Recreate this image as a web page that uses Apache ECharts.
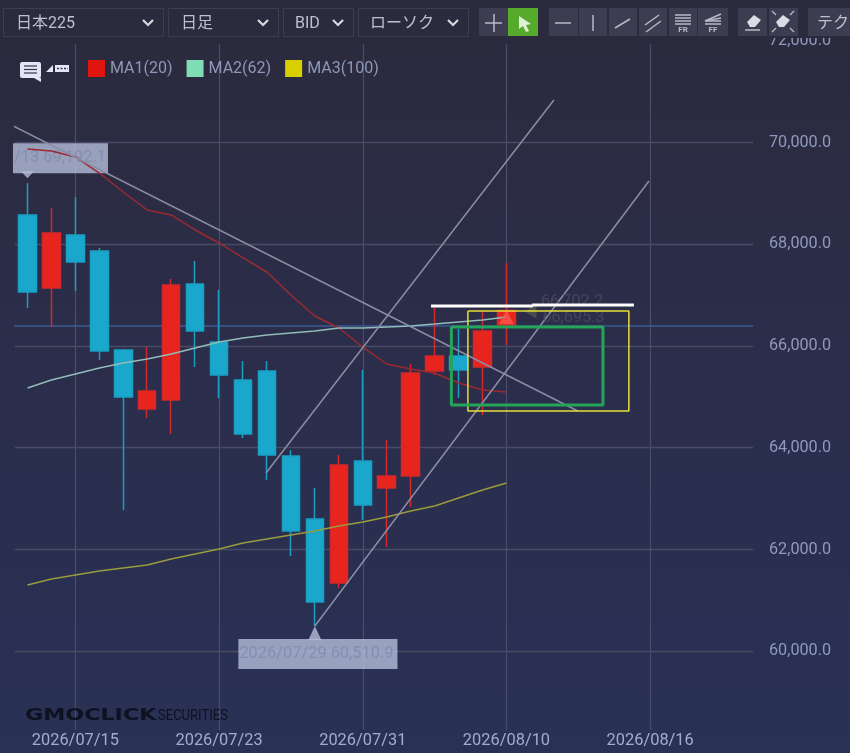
<!DOCTYPE html>
<html><head><meta charset="utf-8">
<style>html,body{margin:0;padding:0;background:#2b2b3d}#c{width:850px;height:753px}</style>
<script src="https://cdn.jsdelivr.net/npm/echarts@6/dist/echarts.min.js"></script>
</head><body><div id="c"></div>
<script>
const dates = ['2026/07/13','2026/07/14','2026/07/15','2026/07/16','2026/07/17','2026/07/20','2026/07/21','2026/07/22','2026/07/23','2026/07/24','2026/07/27','2026/07/28','2026/07/29','2026/07/30','2026/07/31','2026/08/03','2026/08/04','2026/08/05','2026/08/06','2026/08/07','2026/08/10','2026/08/11','2026/08/12','2026/08/13','2026/08/14','2026/08/15','2026/08/16','2026/08/17','2026/08/18','2026/08/19','2026/08/20'];
const labelledDates = ['2026/07/15','2026/07/23','2026/07/31','2026/08/10','2026/08/16'];
// open, close, low, high
const ohlc = [
 [68569,67059,66745,69192.1],[67137,68216,66373,68706],[68177,67647,67078,68922],[67863,65902,65725,67922],
 [65922,65000,62784,65940],[64765,65118,64588,65980],[64941,67196,64275,67314],[67216,66294,65588,67667],
 [66078,65431,64980,67098],[65333,64275,64196,65706],[65510,63863,63373,65706],[63843,62373,61882,63961],
 [62608,60980,60510.9,63216],[61353,63667,61255,63863],[63745,62882,62588,65529],[63216,63451,62059,64157],
 [63451,65471,62843,65647],[65510,65804,65431,66745],[65804,65529,64980,66333],[65588,66294,64647,66706],
 [66412,66695.3,66020,67628]
];
const ma1 = [69863,69824,69706,69392,69020,68667,68569,68275,68020,67726,67451,67000,66588,66353,65980,65647,65549,65471,65275,65137,65098];
const ma2 = [65176,65333,65451,65569,65667,65745,65843,65961,66078,66157,66216,66255,66294,66353,66353,66373,66392,66431,66471,66510,66569];
const ma3 = [61314,61431,61510,61588,61647,61706,61824,61922,62020,62137,62216,62294,62373,62471,62549,62647,62765,62863,63020,63176,63314];
const trendDown = [[-0.6,70314],[22.98,64725]];
const trendUpA = [[9.96,63510],[21.98,70824]];
const trendUpB = [[12,60510.9],[25.95,69235]];
const priceLine = [[-0.6,66392],[30.3,66392]];
const whiteA = [[16.85,66784],[21.1,66784]];
const whiteB = [[21.06,66804],[25.32,66804]];
const greenBox = [[17.7,66373],[24.03,66373],[24.03,64843],[17.7,64843],[17.7,66373]];
const yellowBox = [[18.39,66686],[25.11,66686],[25.11,64725],[18.39,64725],[18.39,66686]];
const highNote = {x:0, y:69192.1, text:'/13 69,192.1'};
const lowNote = {x:12, y:60510.9, text:'2026/07/29 60,510.9'};
const lastA = {x:20, y:66702.2, text:'66,702.2'};
const lastB = {x:21, y:66695.3, text:'66,695.3'};
const legendNames = ['MA1(20)','MA2(62)','MA3(100)'];
const selects = ['日本225','日足','BID','ローソク'];

const chart = echarts.init(document.getElementById('c'), null, {renderer:'canvas'});
const F = 'Roboto';
const JP = 'Roboto, "Noto Sans CJK JP"';
const lineS = (name,data,color,width,z,extra) => Object.assign({
  type:'line',name,data,xAxisIndex:1,yAxisIndex:0,showSymbol:false,symbol:'none',clip:false,silent:true,z,
  lineStyle:{color,width,cap:'butt'},animation:false},extra||{});
const noteLabel = (text,pos) => ({show:true,formatter:text,position:pos,align:'left',verticalAlign:'top',
  fontFamily:F,fontSize:16.4,color:'#7f89ae',backgroundColor:'#b5bedb',lineHeight:20});
const TC = '#bfc0cc', BD = '#3d3d50', BTN = '#3d3d52', IC = '#b9bac6';
const g = [];
g.push({type:'rect',shape:{x:0,y:0,width:850,height:38},style:{fill:'#2b2b3d'},z:100});
[[3,160],[168,110],[283,70],[358,110]].forEach(([x,w],i)=>{
  g.push({type:'rect',shape:{x:x+.5,y:8.5,width:w,height:28},style:{fill:'#2b2b3d',stroke:BD,lineWidth:1},z:101});
  g.push({type:'text',x:x+(i==0?13:i==1?13:12),y:24,style:{text:selects[i],fill:TC,font:'16px '+JP,verticalAlign:'middle'},z:102});
  const cx=x+w-15;
  g.push({type:'polyline',shape:{points:[[cx-5,20],[cx,25],[cx+5,20]]},style:{stroke:'#d8d8e0',lineWidth:2.2,fill:null},z:102});
});
[[479,29],[549,29],[579,28],[609,28],[639,28],[669,28],[698,30],[738,29],[769,29],[808,42]].forEach(([x,w])=>{
  g.push({type:'rect',shape:{x,y:8,width:w,height:28},style:{fill:BTN},z:101});
});
g.push({type:'rect',shape:{x:508,y:8,width:30,height:28},style:{fill:'#57ab2c'},z:101});
const L=(x1,y1,x2,y2,w,c)=>g.push({type:'line',shape:{x1,y1,x2,y2},style:{stroke:c||IC,lineWidth:w||1.5},z:102});
L(485,23,502,23);L(494,14,494,32);
g.push({type:'polygon',shape:{points:[[519,16],[531,24],[526,25],[529,31],[526,32],[523,26],[519,29]]},style:{fill:'#dff0d8'},z:102});
L(555,23,571,23);L(593,15,593,31);
L(615,28,630,19);
L(645,25,659,15);L(646,32,661,21);
[15,18,21,24].forEach(y=>L(675,y,691,y,1.5));
g.push({type:'text',x:683,y:30,style:{text:'FR',fill:IC,font:'bold 8px '+F,align:'center',verticalAlign:'middle'},z:102});
L(705,21,721,14);L(705,21,721,18);L(705,21,721,21);
L(705,24,721,24);
g.push({type:'text',x:713,y:30,style:{text:'FF',fill:IC,font:'bold 8px '+F,align:'center',verticalAlign:'middle'},z:102});
g.push({type:'polygon',shape:{points:[[747,22],[754,15],[761,20],[755,27],[750,27]]},style:{fill:'#dcdce4'},z:102});
L(745,30,760,30);
g.push({type:'polygon',shape:{points:[[776,22],[783,15],[790,20],[784,27],[779,27]]},style:{fill:'#dcdce4'},z:102});
L(776,15,772,11,1.3);L(790,15,794,11,1.3);L(776,28,772,32,1.3);L(790,28,794,32,1.3);
g.push({type:'text',x:817,y:24,style:{text:'テク',fill:TC,font:'16px '+JP,verticalAlign:'middle'},z:102});
// comment + line icons
g.push({type:'rect',shape:{x:20,y:62,width:21,height:16,r:2},style:{fill:'#e3e6f5'},z:20});
g.push({type:'polygon',shape:{points:[[34,78],[41,78],[41,82]]},style:{fill:'#e3e6f5'},z:20});
[66,69.5,73].forEach(y=>g.push({type:'line',shape:{x1:24,y1:y,x2:37,y2:y},style:{stroke:'#33344c',lineWidth:1.2},z:21}));
g.push({type:'polygon',shape:{points:[[46,72],[53,65],[53,72]]},style:{fill:'#e3e6f5'},z:20});
g.push({type:'rect',shape:{x:55,y:65,width:14,height:7},style:{fill:'#e3e6f5'},z:20});
g.push({type:'line',shape:{x1:57,y1:68.5,x2:68,y2:68.5},style:{stroke:'#33344c',lineWidth:1.6,lineDash:[2,1.5]},z:21});
// logo
g.push({type:'text',x:25,y:716.5,scaleX:1.48,style:{text:'GMOCLICK',fill:'#0e1120',font:'900 15px "DejaVu Sans"',verticalAlign:'middle'},z:20});
g.push({type:'text',x:158,y:716.5,scaleX:0.84,style:{text:'SECURITIES',fill:'#0e1120',font:'15.5px '+F,verticalAlign:'middle'},z:20});

const option = {
  backgroundColor:{type:'linear',x:0,y:0,x2:0,y2:1,colorStops:[{offset:0,color:'#2b2a3c'},{offset:.45,color:'#2b2d4a'},{offset:1,color:'#293156'}]},
  animation:false,
  grid:[{left:15.5,top:44,width:742.45,height:686},{left:15,top:40.7,right:97,height:714}],
  legend:{left:88,top:60,padding:0,icon:'rect',itemWidth:17,itemHeight:17,itemGap:14,selectedMode:false,
    textStyle:{color:'#8f98b6',fontFamily:F,fontSize:16},
    data:[{name:legendNames[0],itemStyle:{color:'#e0150f'},lineStyle:{width:0}},{name:legendNames[1],itemStyle:{color:'#80dcb4'},lineStyle:{width:0}},{name:legendNames[2],itemStyle:{color:'#d8cf00'},lineStyle:{width:0}}]},
  xAxis:[
    {type:'category',gridIndex:0,data:dates,boundaryGap:true,axisLine:{show:false},axisTick:{show:false},
     axisLabel:{interval:(i,v)=>labelledDates.includes(v),color:'#a3acd0',fontFamily:F,fontSize:16.4,margin:3,hideOverlap:false},
     splitLine:{show:true,interval:(i,v)=>labelledDates.includes(v),alignWithLabel:true,lineStyle:{color:'#484c69',width:1.3}}},
    {type:'value',gridIndex:0,min:-0.5,max:30.5,show:false,splitLine:{show:false}},
    {type:'value',gridIndex:1,min:0,max:1,show:false,splitLine:{show:false}}
  ],
  yAxis:[
    {type:'value',gridIndex:0,min:58470.6,max:71921.6,show:false,splitLine:{show:false}},
    {type:'value',gridIndex:1,position:'right',min:58000,max:72000,interval:2000,axisLine:{show:false},axisTick:{show:false},
     axisLabel:{show:true,margin:16,color:'#9099bd',fontFamily:F,fontSize:16.2,showMinLabel:false,padding:[3,0,0,0],
       formatter:v=>v.toLocaleString('en-US',{minimumFractionDigits:1})},
     splitLine:{show:true,showMinLine:false,showMaxLine:false,lineStyle:{color:'#484b66',width:1.3}}}
  ],
  series:[
    lineS('price',priceLine,'#3c5a95',1.5,1),
    {type:'candlestick',name:'日本225',data:ohlc,xAxisIndex:0,yAxisIndex:0,barWidth:18,z:3,silent:true,animation:false,clip:false,
     itemStyle:{color:'#e8241f',color0:'#19a8cc',borderColor:'#d4282a',borderColor0:'#1a9fc2',borderWidth:1.5}},
    {type:'scatter',name:'hi',data:[[highNote.x,highNote.y]],xAxisIndex:1,yAxisIndex:0,symbol:'triangle',symbolRotate:180,symbolSize:[13,7],symbolOffset:[0,-8.5],clip:false,silent:true,z:4,
     itemStyle:{color:'#b5bedb'},label:Object.assign(noteLabel(highNote.text,[-8,-28]),{padding:[5,5,5,1],width:89})},
    {type:'scatter',name:'lo',data:[[lowNote.x,lowNote.y]],xAxisIndex:1,yAxisIndex:0,symbol:'triangle',symbolSize:[13,14],symbolOffset:[0,7],clip:false,silent:true,z:4,
     itemStyle:{color:'#b5bedb'},label:Object.assign(noteLabel(lowNote.text,[-70,13]),{padding:[5,4,5,1]})},
    lineS(legendNames[0],ma1,'#9c2a30',1.5,6,{data:ma1.map((v,i)=>[i,v])}),
    lineS(legendNames[1],ma2,'#93bcb8',1.5,6,{data:ma2.map((v,i)=>[i,v])}),
    lineS(legendNames[2],ma3,'#9a9c3c',1.5,6,{data:ma3.map((v,i)=>[i,v])}),
    lineS('t1',trendDown,'#8c8da5',1.5,7),
    lineS('t2',trendUpA,'#8c8da5',1.5,7),
    lineS('t3',trendUpB,'#8c8da5',1.5,7),
    {type:'scatter',name:'last',data:[[lastA.x,lastA.y]],xAxisIndex:1,yAxisIndex:0,symbol:'triangle',symbolSize:[15,14],symbolOffset:[0,7],clip:false,silent:true,z:8,
     itemStyle:{color:'#f8584e'},label:{show:true,formatter:lastA.text,position:[42,-16],color:'#4b4c5f',fontFamily:F,fontSize:16.2}},
    {type:'scatter',name:'prev',data:[[lastB.x,lastB.y]],xAxisIndex:1,yAxisIndex:0,symbol:'triangle',symbolRotate:90,symbolSize:[14,12],symbolOffset:[0,1],clip:false,silent:true,z:8,
     itemStyle:{color:'#55554f'},label:{show:true,formatter:lastB.text,position:[18,5],color:'#4b4c5f',fontFamily:F,fontSize:16.2}},
    lineS('yb',yellowBox,'#e6df36',1.5,9),
    lineS('gb',greenBox,'#24a557',3,9),
    lineS('wa',whiteA,'#ffffff',3,10),
    lineS('wb',whiteB,'#ffffff',3,10)
  ],
  graphic:g
};
chart.setOption(option);
</script></body></html>
